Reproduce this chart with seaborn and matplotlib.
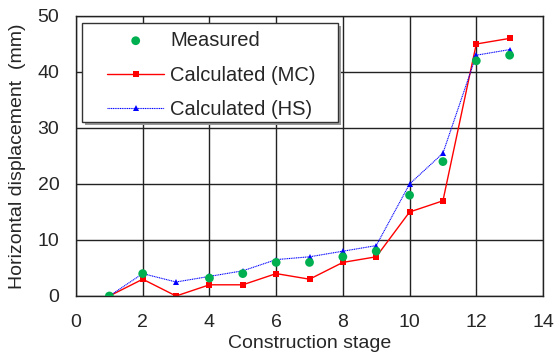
import numpy as np
import pandas as pd
import matplotlib
matplotlib.use("Agg")
import matplotlib.pyplot as plt
from matplotlib.patches import Rectangle
import seaborn as sns

stages = [1, 2, 3, 4, 5, 6, 7, 8, 9, 10, 11, 12, 13]
measured = [0, 4, np.nan, 3.2, 4, 6, 6, 7, 8, 18, 24, 42, 43]
calc_mc = [0, 3, 0, 2, 2, 4, 3, 6, 7, 15, 17, 45, 46]
calc_hs = [0, 4, 2.5, 3.5, 4.5, 6.5, 7, 8, 9, 20, 25.5, 43, 44]
x_ticks = [0, 2, 4, 6, 8, 10, 12, 14]
y_ticks = [0, 10, 20, 30, 40, 50]

sns.set_style("white")
plt.rcParams['font.family'] = ['Liberation Sans', 'DejaVu Sans']

W, H = 555, 354
fig = plt.figure(figsize=(W/100, H/100), dpi=100)
ax = fig.add_axes([76/W, 1 - 296/H, (543-76)/W, (296-16)/H])

df = pd.DataFrame({"stage": stages, "measured": measured, "mc": calc_mc, "hs": calc_hs})

sns.lineplot(data=df, x="stage", y="mc", ax=ax, color="#ff0000", lw=1.0,
             marker="s", markersize=4.5, markeredgewidth=0, label="Calculated (MC)")
sns.lineplot(data=df, x="stage", y="hs", ax=ax, color="#0000ff", lw=0.8, linestyle=(0, (1, 0.6)),
             marker="^", markersize=5, markeredgewidth=0, label="Calculated (HS)")
dm = df.dropna(subset=["measured"])
sns.scatterplot(data=dm, x="stage", y="measured", ax=ax, color="#00b050", s=40,
                edgecolor="none", label="Measured", zorder=5)

ax.set_xlim(0, 14)
ax.set_ylim(0, 50)
ax.set_xticks(x_ticks)
ax.set_yticks(y_ticks)
ax.grid(True, color="#222222", lw=1.0)
ax.set_axisbelow(True)
for s in ax.spines.values():
    s.set_color("#222222")
    s.set_linewidth(1.0)
ax.tick_params(labelsize=14, length=0)
ax.tick_params(axis="y", pad=12)
ax.tick_params(axis="x", pad=13)
ax.set_xlabel("Construction stage", fontsize=14, labelpad=3)
ax.set_ylabel("Horizontal displacement  (mm)", fontsize=14, labelpad=8)

# legend frame with shadow
sh = Rectangle((85/W, 1 - 125/H), (338-82)/W, (122-23)/H, transform=fig.transFigure,
               facecolor="#999999", edgecolor="none", zorder=9)
fr = Rectangle((82/W, 1 - 122/H), (338-82)/W, (122-23)/H, transform=fig.transFigure,
               facecolor="white", edgecolor="#333333", lw=1.0, zorder=10)
fig.patches.extend([sh, fr])

h, l = ax.get_legend_handles_labels()
if ax.get_legend() is not None:
    ax.get_legend().remove()
order = [2, 0, 1]
leg = fig.legend([h[i] for i in order], [l[i] for i in order], loc="upper left",
                 bbox_to_anchor=(107/W, 1 - 31/H), fontsize=14.5, frameon=False,
                 handlelength=2.85, labelspacing=0.78, borderpad=0, handletextpad=0.3,
                 borderaxespad=0)
leg.set_zorder(11)

fig.savefig("out.png", dpi=100)
